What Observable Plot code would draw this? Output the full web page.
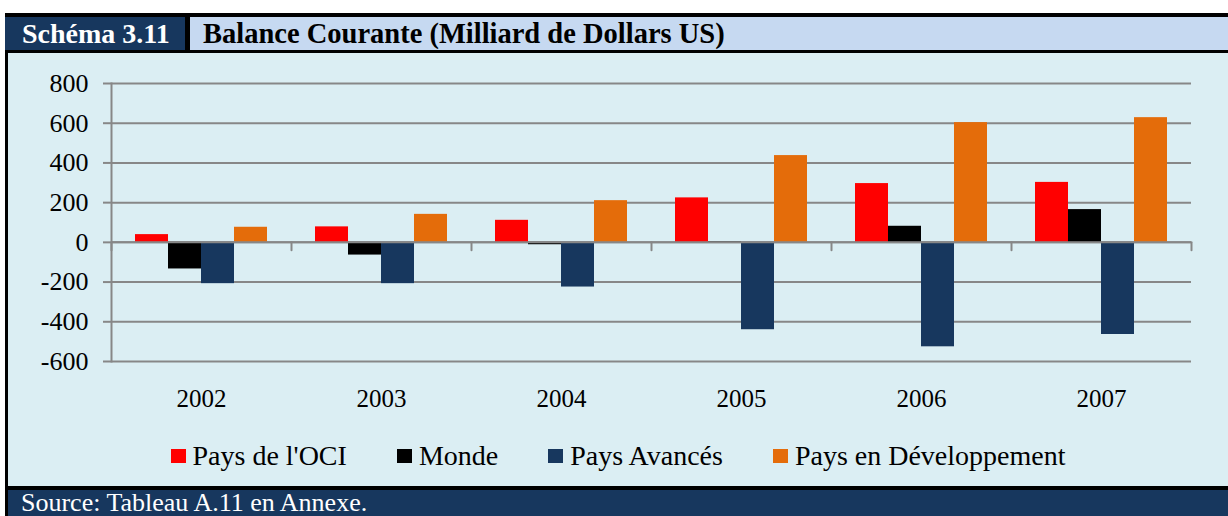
<!DOCTYPE html>
<html><head><meta charset="utf-8">
<script src="https://cdn.jsdelivr.net/npm/d3@7"></script>
<script src="https://cdn.jsdelivr.net/npm/@observablehq/plot@0.6"></script>
<style>
html,body{margin:0;padding:0;background:#fff;}
body{width:1228px;height:516px;position:relative;overflow:hidden;font-family:"Liberation Serif","Times New Roman",serif;}
#hdr{position:absolute;left:5px;top:13px;width:1223px;height:40px;background:#000;}
#num{position:absolute;left:0;top:4px;width:180px;height:33px;background:#17375e;color:#fff;font-weight:bold;font-size:28px;line-height:34px;padding-left:17px;box-sizing:border-box;white-space:nowrap;}
#ttl{position:absolute;left:185px;top:4px;right:0;height:33px;background:#c6d9f1;color:#000;font-weight:bold;font-size:28.5px;line-height:34px;padding-left:13px;box-sizing:border-box;white-space:nowrap;}
#body{position:absolute;left:5px;top:53px;width:1223px;height:433px;background:#000;}
#inner{position:absolute;left:3px;top:0;right:0;bottom:0;background:#dbeef3;}
#chart{position:absolute;left:0;top:0;}
#chart svg text{font-family:"Liberation Serif","Times New Roman",serif;}
#legend{position:absolute;left:0;right:0;top:386px;height:34px;display:flex;justify-content:center;align-items:center;gap:50px;font-family:"Liberation Serif",serif;font-size:28px;color:#000;white-space:nowrap;padding-left:0px;}
#legend .it{display:flex;align-items:center;}
#legend .sw{width:15px;height:14px;margin-right:7px;}
#foot{position:absolute;left:5px;top:486px;width:1223px;height:30px;background:#000;}
#src{position:absolute;left:3px;top:4px;right:0;bottom:0;background:#17375e;color:#fff;font-family:"Liberation Serif",serif;font-size:26px;line-height:26px;padding-left:13px;white-space:nowrap;}
</style>
</head><body>
<div id="hdr"><div id="num">Schéma 3.11</div><div id="ttl">Balance Courante (Milliard de Dollars US)</div></div>
<div id="body"><div id="inner"><div id="chart"></div><div id="legend"></div></div></div>
<div id="foot"><div id="src">Source: Tableau A.11 en Annexe.</div></div>
<script>
const years = ["2002", "2003", "2004", "2005", "2006", "2007"];
const series = ["Pays de l'OCI", "Monde", "Pays Avancés", "Pays en Développement"];
const colors = ["#ff0000", "#000000", "#17375e", "#e46c0a"];
const oci = [39, 78, 111, 224, 296, 302];
const monde = [-134, -64, -12, 3, 81, 165];
const avances = [-208, -208, -225, -440, -526, -464];
const developpement = [76, 141, 210, 437, 603, 628];
const yTicks = [-600, -400, -200, 0, 200, 400, 600, 800];

const valuesBySeries = [oci, monde, avances, developpement];
const data = years.flatMap((yr, i) => series.map((s, j) => ({year: yr, series: s, value: valuesBySeries[j][i]})));

const grey = "#878787";
const tickShape = {draw(context, l) { context.moveTo(0, 0); context.lineTo(0, -l); }};

const chart = Plot.plot({
  width: 1220,
  height: 375,
  marginLeft: 102,
  marginRight: 36,
  marginTop: 30,
  marginBottom: 67,
  style: {background: "transparent", fontFamily: "Liberation Serif, serif", fontSize: "25px", color: "#000", overflow: "visible"},
  fx: {domain: years, padding: 0, label: null, axis: null},
  x: {domain: series, paddingInner: 0, paddingOuter: 0.7, axis: null},
  y: {domain: [-600, 800], label: null, axis: null},
  color: {domain: series, range: colors},
  marks: [
    Plot.gridY(yTicks, {stroke: grey, strokeOpacity: 1, strokeWidth: 2}),
    Plot.axisY({ticks: yTicks, tickSize: 8, tickPadding: 15, stroke: grey, strokeWidth: 2, strokeOpacity: 1, fill: "#000", fontSize: 26, label: null, tickFormat: d => String(d)}),
    Plot.frame({anchor: "left", facetAnchor: "left", stroke: grey, strokeWidth: 2}),
    Plot.barY(data, {fx: "year", x: "series", y: "value", fill: "series"}),
    Plot.ruleY([0], {stroke: grey, strokeWidth: 2}),
    Plot.vector([0], {y: d => d, frameAnchor: "left", length: 8, rotate: 180, anchor: "start", stroke: grey, strokeWidth: 2, shape: tickShape}),
    Plot.vector([0], {y: d => d, frameAnchor: "right", facetAnchor: "right", length: 8, rotate: 180, anchor: "start", stroke: grey, strokeWidth: 2, shape: tickShape}),
    Plot.axisFx({anchor: "bottom", tickSize: 0, tickPadding: 28, label: null, fill: "#000", fontSize: 25})
  ]
});
document.getElementById("chart").appendChild(chart);

const legend = document.getElementById("legend");
series.forEach((s, j) => {
  const it = document.createElement("div");
  it.className = "it";
  const sw = document.createElement("span");
  sw.className = "sw";
  sw.style.background = colors[j];
  const tx = document.createElement("span");
  tx.textContent = s;
  it.appendChild(sw);
  it.appendChild(tx);
  legend.appendChild(it);
});
</script>
</body></html>
